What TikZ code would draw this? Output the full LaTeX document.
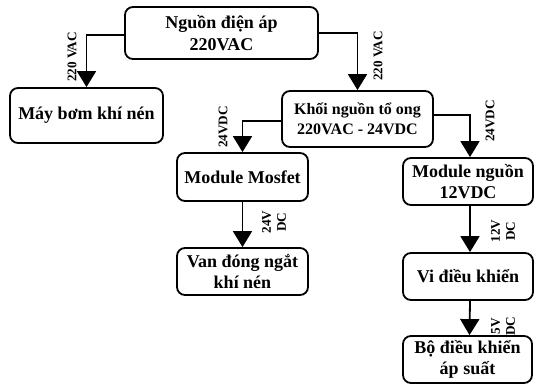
\documentclass[tikz,border=0pt]{standalone}
\usepackage{fontspec}
\setmainfont{Liberation Serif}
\usetikzlibrary{arrows.meta}
\begin{document}
\begin{tikzpicture}[x=1pt,y=-1pt,
  box/.style={draw,line width=1.8pt,rounded corners=8pt,align=center,inner sep=0pt,
    font=\fontsize{18}{21.6}\selectfont\bfseries},
  conn/.style={line width=1.8pt,-{Triangle[width=19pt,length=16pt]}},
  lbl/.style={rotate=90,align=center,inner sep=0pt,font=\fontsize{13.2}{15}\selectfont\bfseries}]
\useasboundingbox (0,0) rectangle (536,385);
\node[box,minimum width=193pt,minimum height=52pt] (top) at (221.5,33) {Nguồn điện áp\\220VAC};
\node[box,minimum width=153pt,minimum height=55pt] (may) at (86.5,115.5) {Máy bơm khí nén};
\node[box,minimum width=151pt,minimum height=56pt,font=\fontsize{16}{20}\selectfont\bfseries] (khoi) at (357.5,119) {Khối nguồn tổ ong\\220VAC - 24VDC};
\node[box,minimum width=131pt,minimum height=48pt] (mos) at (242.5,177) {Module Mosfet};
\node[box,minimum width=131pt,minimum height=47pt] (van) at (242.5,271.5) {Van đóng ngắt\\khí nén};
\node[box,minimum width=130pt,minimum height=47pt] (mn) at (468,181.5) {Module nguồn\\12VDC};
\node[box,minimum width=130pt,minimum height=47pt] (vi) at (468,276.5) {Vi điều khiển};
\node[box,minimum width=129pt,minimum height=47pt] (bo) at (467.5,359.5) {Bộ điều khiển\\áp suất};

\draw[conn] ([yshift=-2pt]top.west) -| (may.north);
\draw[conn] (top.east) -| (khoi.north);
\draw[conn] ([yshift=-2pt]khoi.west) -| (mos.north);
\draw[conn] ([yshift=4pt]khoi.east) -| ([xshift=2pt]mn.north);
\draw[conn] (mos.south) -- (van.north);
\draw[conn] ([xshift=2pt]mn.south) -- ([xshift=2pt]vi.north);
\draw[conn] ([xshift=2pt]vi.south) -- ([xshift=2pt]bo.north);

\node[lbl] (l1) at (72,57) {220 VAC};
\node[lbl] (l2) at (378,56) {220 VAC};
\node[lbl] (l3) at (223,127) {24VDC};
\node[lbl] (l4) at (490,121) {24VDC};
\node[lbl] (l5) at (274,222) {24V\\DC};
\node[lbl] (l6) at (503,231) {12V\\DC};
\node[lbl] (l7) at (503,326) {5V\\DC};
\end{tikzpicture}
\end{document}
